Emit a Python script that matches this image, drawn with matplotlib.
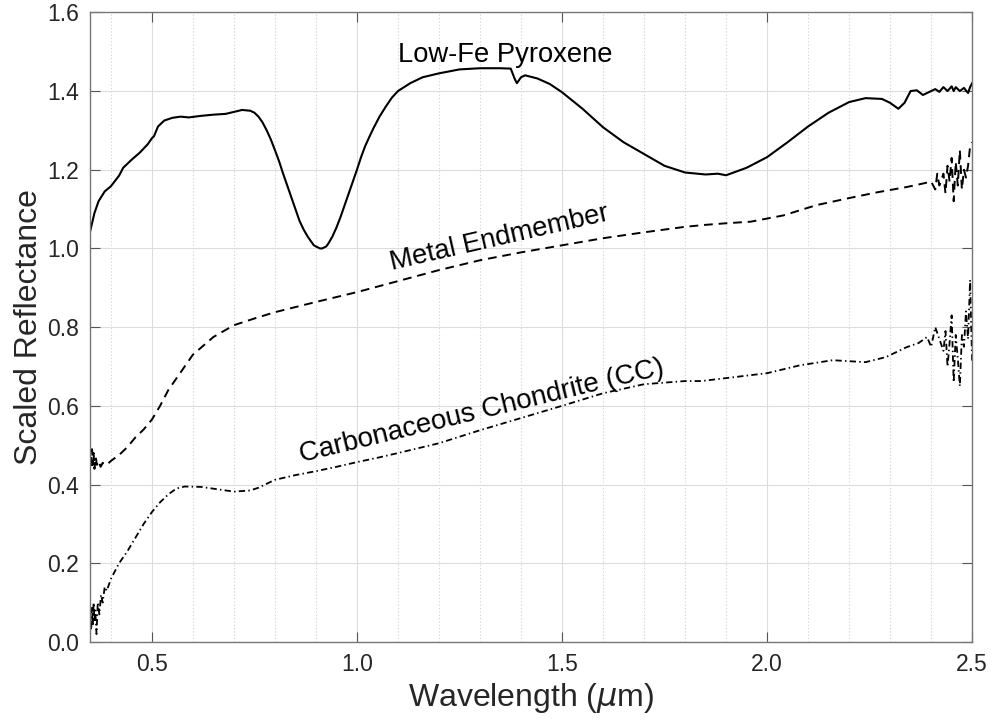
"""
Scaled reflectance spectra of three endmembers
"""

import matplotlib
matplotlib.use("Agg")
import matplotlib.pyplot as plt
from matplotlib.ticker import MultipleLocator

plt.rcParams['font.family'] = ['Liberation Sans', 'DejaVu Sans']
plt.rcParams['mathtext.fontset'] = 'dejavusans'

# Low-Fe pyroxene (solid)
pyx_wl = [0.35, 0.36, 0.37, 0.385, 0.40, 0.42, 0.43, 0.45, 0.47, 0.49, 0.50, 0.505,
          0.515, 0.53, 0.55, 0.57, 0.59, 0.62, 0.65, 0.68, 0.70, 0.72, 0.74, 0.75,
          0.76, 0.77, 0.78, 0.79, 0.80, 0.81, 0.82, 0.83, 0.84, 0.85, 0.86, 0.87,
          0.88, 0.89, 0.895, 0.90, 0.91, 0.915, 0.925, 0.93, 0.94, 0.95, 0.96, 0.97,
          0.98, 0.99, 1.00, 1.01, 1.02, 1.03, 1.04, 1.055, 1.07, 1.085, 1.10, 1.13,
          1.16, 1.20, 1.25, 1.30, 1.35, 1.375, 1.385, 1.39, 1.40, 1.41, 1.44, 1.47,
          1.50, 1.55, 1.60, 1.65, 1.70, 1.75, 1.80, 1.85, 1.88, 1.90, 1.95, 2.00,
          2.05, 2.10, 2.15, 2.20, 2.24, 2.28, 2.30, 2.32, 2.335, 2.35, 2.365, 2.38,
          2.39, 2.40, 2.41, 2.42, 2.43, 2.44, 2.45, 2.455, 2.46, 2.47, 2.48, 2.49,
          2.495, 2.50]
pyx_refl = [1.046, 1.09, 1.12, 1.145, 1.158, 1.185, 1.205, 1.225, 1.243, 1.265, 1.28, 1.285,
            1.31, 1.325, 1.332, 1.335, 1.333, 1.337, 1.34, 1.342, 1.347, 1.352, 1.35, 1.345,
            1.335, 1.32, 1.30, 1.277, 1.25, 1.222, 1.19, 1.16, 1.13, 1.10, 1.07, 1.048,
            1.03, 1.015, 1.008, 1.005, 1.0, 1.0, 1.005, 1.012, 1.03, 1.053, 1.08, 1.11,
            1.14, 1.17, 1.20, 1.232, 1.26, 1.283, 1.305, 1.335, 1.36, 1.383, 1.40, 1.42,
            1.435, 1.445, 1.455, 1.458, 1.458, 1.457, 1.43, 1.42, 1.435, 1.44, 1.432, 1.418,
            1.397, 1.355, 1.308, 1.27, 1.24, 1.21, 1.193, 1.188, 1.19, 1.186, 1.205, 1.232,
            1.27, 1.31, 1.345, 1.372, 1.382, 1.38, 1.37, 1.355, 1.37, 1.40, 1.402, 1.39,
            1.395, 1.40, 1.405, 1.398, 1.41, 1.40, 1.412, 1.40, 1.41, 1.40, 1.408, 1.395,
            1.41, 1.42]

# Metal endmember (dashed)
metal_wl = [0.35, 0.352, 0.354, 0.356, 0.358, 0.36, 0.363, 0.366, 0.37, 0.375, 0.38, 0.39,
            0.40, 0.42, 0.44, 0.46, 0.48, 0.50, 0.52, 0.54, 0.56, 0.58, 0.60, 0.65,
            0.70, 0.75, 0.80, 0.90, 1.0, 1.1, 1.2, 1.3, 1.4, 1.5, 1.6, 1.7,
            1.8, 1.85, 1.9, 1.96, 2.04, 2.12, 2.2, 2.27, 2.34, 2.38, 2.40, 2.41,
            2.415, 2.42, 2.43, 2.435, 2.44, 2.445, 2.45, 2.455, 2.46, 2.465, 2.47, 2.475,
            2.48, 2.485, 2.49, 2.495, 2.50]
metal_refl = [0.47, 0.44, 0.49, 0.45, 0.48, 0.44, 0.47, 0.45, 0.46, 0.445, 0.455, 0.45,
              0.46, 0.475, 0.495, 0.52, 0.54, 0.565, 0.60, 0.64, 0.67, 0.70, 0.73, 0.775,
              0.805, 0.822, 0.838, 0.864, 0.889, 0.917, 0.945, 0.97, 0.99, 1.008, 1.026, 1.041,
              1.055, 1.06, 1.064, 1.068, 1.084, 1.11, 1.128, 1.143, 1.156, 1.165, 1.17, 1.15,
              1.19, 1.16, 1.19, 1.14, 1.21, 1.17, 1.23, 1.12, 1.22, 1.16, 1.25, 1.15,
              1.20, 1.18, 1.21, 1.26, 1.27]

# Carbonaceous chondrite (dash-dot)
cc_wl = [0.35, 0.352, 0.354, 0.356, 0.358, 0.36, 0.362, 0.365, 0.368, 0.372, 0.376, 0.38,
         0.385, 0.39, 0.40, 0.41, 0.42, 0.44, 0.46, 0.48, 0.50, 0.52, 0.54, 0.56,
         0.58, 0.62, 0.66, 0.70, 0.74, 0.76, 0.78, 0.80, 0.85, 0.90, 0.95, 1.0,
         1.05, 1.1, 1.2, 1.3, 1.4, 1.5, 1.6, 1.7, 1.8, 1.84, 1.92, 2.0,
         2.08, 2.16, 2.24, 2.29, 2.34, 2.37, 2.39, 2.40, 2.41, 2.42, 2.43, 2.435,
         2.44, 2.445, 2.45, 2.455, 2.46, 2.465, 2.47, 2.475, 2.48, 2.485, 2.49, 2.495, 2.50]
cc_refl = [0.06, 0.03, 0.09, 0.04, 0.10, 0.05, 0.08, 0.02, 0.10, 0.07, 0.12, 0.10,
           0.14, 0.13, 0.16, 0.18, 0.20, 0.23, 0.265, 0.30, 0.33, 0.355, 0.375, 0.39,
           0.395, 0.394, 0.388, 0.382, 0.385, 0.392, 0.402, 0.412, 0.424, 0.434, 0.445, 0.457,
           0.468, 0.48, 0.505, 0.538, 0.569, 0.60, 0.632, 0.655, 0.663, 0.663, 0.673, 0.683,
           0.703, 0.716, 0.711, 0.724, 0.749, 0.76, 0.775, 0.75, 0.80, 0.77, 0.74, 0.79,
           0.70, 0.76, 0.83, 0.66, 0.78, 0.72, 0.65, 0.78, 0.75, 0.84, 0.77, 0.92, 0.71]

x_ticks = [0.5, 1.0, 1.5, 2.0, 2.5]
y_ticks = [0.0, 0.2, 0.4, 0.6, 0.8, 1.0, 1.2, 1.4, 1.6]

fig = plt.figure(figsize=(9.93, 7.27), dpi=100)
ax = fig.add_axes([0.091, 0.117, 0.888, 0.866])

ax.plot(pyx_wl, pyx_refl, color='black', lw=1.5, linestyle='-')
ax.plot(metal_wl, metal_refl, color='black', lw=1.4, linestyle=(0, (4.5, 3)))
ax.plot(cc_wl, cc_refl, color='black', lw=1.3, linestyle=(0, (3.5, 1.8, 0.8, 1.8)))

# curve labels
ax.text(1.362, 1.473, 'Low-Fe Pyroxene', fontsize=19.7, ha='center', va='baseline')
ax.text(1.351, 1.008, 'Metal Endmember', fontsize=19.7, ha='center', va='baseline',
        rotation=12.9, rotation_mode='anchor')
ax.text(1.309, 0.568, 'Carbonaceous Chondrite (CC)', fontsize=20, ha='center', va='baseline',
        rotation=13.6, rotation_mode='anchor')

ax.set_xlim(0.35, 2.5)
ax.set_ylim(0, 1.6)
ax.set_xticks(x_ticks)
ax.set_yticks(y_ticks)
ax.set_xticklabels([f'{v:.1f}' for v in x_ticks])
ax.set_yticklabels([f'{v:.1f}' for v in y_ticks])
ax.xaxis.set_minor_locator(MultipleLocator(0.1))

# MATLAB-ish grid and box
ax.grid(True, which='major', color='#dcdcdc', lw=0.8, linestyle='-')
ax.grid(True, which='minor', axis='x', color='#d0d0d0', lw=0.8, linestyle=(0, (1, 2)))
ax.set_axisbelow(True)
ax.tick_params(which='major', direction='in', length=7, width=0.8, colors='#555555',
               labelcolor='#262626', labelsize=16.5, top=True, right=True, pad=8)
ax.tick_params(which='minor', length=0, top=True, right=True)
for s in ax.spines.values():
    s.set_color('#777777')
    s.set_linewidth(1.0)

ax.set_xlabel(r'Wavelength ($\mu$m)', fontsize=23, color='#262626')
ax.set_ylabel('Scaled Reflectance', fontsize=23, color='#262626')
ax.xaxis.set_label_coords(0.5, -0.062)
ax.yaxis.set_label_coords(-0.053, 0.5)

fig.savefig('out.png', dpi=100)
